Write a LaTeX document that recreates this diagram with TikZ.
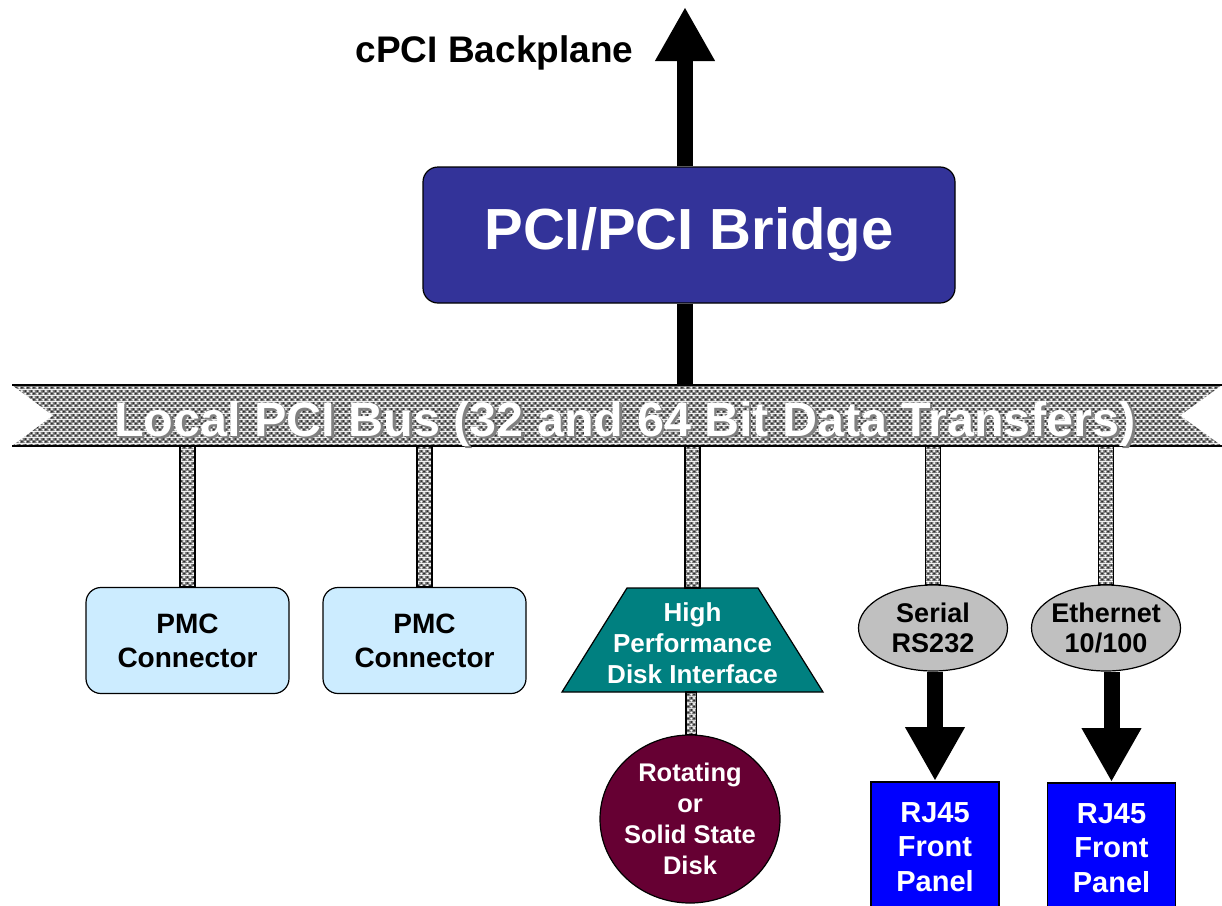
\documentclass[tikz,border=0pt]{standalone}
\usepackage{fontspec}
\setmainfont{Liberation Sans}
\usepackage{tikz}
\usetikzlibrary{arrows.meta,shapes.geometric,patterns,positioning}
\definecolor{bridgeblue}{HTML}{333399}
\definecolor{pmcblue}{HTML}{CCECFF}
\definecolor{ifteal}{HTML}{008080}
\definecolor{diskred}{HTML}{660033}
\definecolor{portgray}{HTML}{C0C0C0}
\definecolor{rjblue}{HTML}{0000FF}
\pgfdeclarepatterninherentlycolored{busmesh}{\pgfpointorigin}{\pgfpoint{6pt}{6pt}}{\pgfpoint{6pt}{6pt}}{
  \pgfsetfillcolor{black!50}
  \pgfpathrectangle{\pgfpointorigin}{\pgfpoint{6pt}{6pt}}\pgfusepath{fill}
  \pgfsetfillcolor{white}
  \pgfpathcircle{\pgfpoint{1.5pt}{1.5pt}}{1.3pt}\pgfpathcircle{\pgfpoint{4.5pt}{4.5pt}}{1.3pt}\pgfusepath{fill}
  \pgfsetfillcolor{black!85}
  \pgfpathcircle{\pgfpoint{1.5pt}{4.5pt}}{1.1pt}\pgfpathcircle{\pgfpoint{4.5pt}{1.5pt}}{1.1pt}\pgfusepath{fill}
}
\tikzstyle{bridge} = [rectangle, draw, line width=1.2pt, rounded corners=15pt, fill=bridgeblue, text=white, minimum width=532pt, minimum height=136pt, font=\fontsize{58}{62}\selectfont\bfseries]
\tikzstyle{pmc} = [rectangle, draw, line width=1.2pt, rounded corners=15pt, fill=pmcblue, minimum width=203pt, minimum height=106pt, align=center, font=\fontsize{28}{34}\selectfont\bfseries]
\tikzstyle{iftext} = [text=white, align=center, font=\fontsize{26}{31}\selectfont\bfseries]
\tikzstyle{disk} = [ellipse, draw, line width=1.2pt, fill=diskred, text=white, inner sep=-14pt, minimum width=180pt, minimum height=168pt, align=center, font=\fontsize{25.5}{31}\selectfont\bfseries]
\tikzstyle{port} = [ellipse, draw, line width=1.2pt, fill=portgray, inner sep=-6pt, minimum width=149pt, minimum height=86pt, align=center, font=\fontsize{27}{30}\selectfont\bfseries]
\tikzstyle{rj} = [rectangle, draw, line width=1.5pt, fill=rjblue, text=white, minimum width=128pt, minimum height=130pt, align=center, font=\fontsize{29}{34.5}\selectfont\bfseries]
\tikzstyle{stub} = [draw, line width=1.5pt, pattern=busmesh]
\tikzstyle{bigarrow} = [line width=16pt, -{Triangle[width=56pt, length=54pt]}]
\newcommand{\shadowtext}[1]{\rlap{\hspace{2.5pt}\raisebox{-2.5pt}[0pt][0pt]{\color{gray}#1}}#1}

\begin{document}
\begin{tikzpicture}[x=1pt, y=1pt]
  \useasboundingbox (0,0) rectangle (1222,-905);
  \coordinate (bustop) at (0,-385);
  \coordinate (busbot) at (0,-446);
  \coordinate (uptip) at (685,-7);

  \draw (494.5,-62)node[anchor=base, font=\fontsize{37}{40}\selectfont\bfseries](backplane){cPCI Backplane};
  \draw (689,-235)node[bridge](bridge){PCI/PCI Bridge};
  \draw (187.5,-640.5)node[pmc](pmcA){PMC\\Connector};
  \draw (424.5,-640.5)node[pmc](pmcB){PMC\\Connector};
  \draw[fill=ifteal, line width=1.2pt] (562,-692) -- (823,-692) -- (758,-588) -- (627,-588) -- cycle;
  \draw (692.5,-643)node[iftext, minimum width=261pt, minimum height=98pt](hpdi){High\\Performance\\Disk Interface};
  \draw (690,-819)node[disk](disk){Rotating\\or\\Solid State\\Disk};
  \draw (933,-628)node[port](serial){Serial\\RS232};
  \draw (1106,-628)node[port](ether){Ethernet\\10/100};
  \draw (935,-781)node[rj, anchor=north](rjA){RJ45\\Front\\Panel};
  \draw (1111.5,-782)node[rj, anchor=north](rjB){RJ45\\Front\\Panel};

  \foreach \n in {pmcA,pmcB,serial,ether}
    \draw[stub] ([xshift=-7.5pt]\n.north |- busbot) rectangle ([xshift=7.5pt]\n.north);
  \draw[stub] ([xshift=-7.5pt]hpdi.north |- busbot) rectangle ([xshift=7.5pt]hpdi.north |- 0,-588);
  \draw[stub] ([xshift=-6.5pt]hpdi.south |- 0,-692) rectangle ([xshift=6.5pt]disk.north);

  \fill[pattern=busmesh] (12,-385) -- (1222,-385) -- (1180,-415.5) -- (1222,-446) -- (12,-446) -- (53,-415.5) -- cycle;
  \draw[line width=2pt] (12,-385) -- (1222,-385) (12,-446) -- (1222,-446);
  \draw (625,-436)node[anchor=base, text=white, font=\fontsize{48.5}{50}\selectfont\bfseries](buslabel){\shadowtext{Local PCI Bus (32 and 64 Bit Data Transfers)}};

  \draw[line width=16pt] (bridge.south -| uptip) -- (bustop -| uptip);
  \draw[bigarrow] (bridge.north -| uptip) -- (uptip);
  \draw[bigarrow] (serial.south -| rjA.north) -- (rjA.north);
  \draw[bigarrow] (ether.south -| rjB.north) -- (rjB.north);
\end{tikzpicture}
\end{document}
